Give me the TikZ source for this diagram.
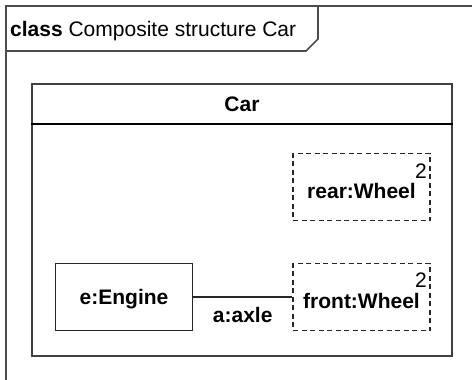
\documentclass[tikz,border=0pt]{standalone}
\usepackage{fontspec}
\setmainfont{Liberation Sans}
\usetikzlibrary{positioning}

\begin{document}
\begin{tikzpicture}[
  x=1pt, y=-1pt,
  txt/.style={font=\fontsize{21}{25}\selectfont},
  frame/.style={draw=black!70, line width=1.6pt},
  classbox/.style={draw=black!75, line width=1.3pt, minimum width=420pt, minimum height=272pt, inner sep=0pt},
  part/.style={draw=black!85, line width=1.2pt, minimum width=137pt, minimum height=67pt, inner sep=0pt, txt, font=\fontsize{21}{25}\selectfont\bfseries, text height=14pt, text depth=0pt},
  prop/.style={part, dashed, dash pattern=on 5pt off 3.5pt, text height=22pt},
  mult/.style={txt, anchor=base east, inner sep=0pt},
  conn/.style={draw=black!85, line width=1.2pt},
]
\useasboundingbox (0,0) rectangle (472,380);

% Frame with name tab
\draw[frame] (6,400) -- (6,6) -- (490,6);
\draw[frame] (6,51) -- (306,51) -- (318,39) -- (318,6);
\node[txt, anchor=base west, inner sep=0pt] (title) at (10,37) {\textbf{class} Composite structure Car};

% Car class with its compartment
\node[classbox] (car) at (242,220) {};
\node[txt, font=\fontsize{21}{25}\selectfont\bfseries, anchor=base, inner sep=0pt] (carname) at (242,111) {Car};
\draw[black, line width=2.2pt] (car.west |- 0,124) -- (car.east |- 0,124);

% Parts
\node[part] (engine) at (124,297) {e:Engine};
\node[prop] (rear) at (361.5,187) {rear:Wheel};
\node[prop] (front) at (361.5,297) {front:Wheel};
\node[mult] (rearmult) at (427,178) {2};
\node[mult] (frontmult) at (427,287) {2};

% Connector
\draw[conn] (engine) -- node[below=10pt, inner sep=0pt, txt, font=\fontsize{21}{25}\selectfont\bfseries] (axle) {a:axle} (front);
\end{tikzpicture}
\end{document}
